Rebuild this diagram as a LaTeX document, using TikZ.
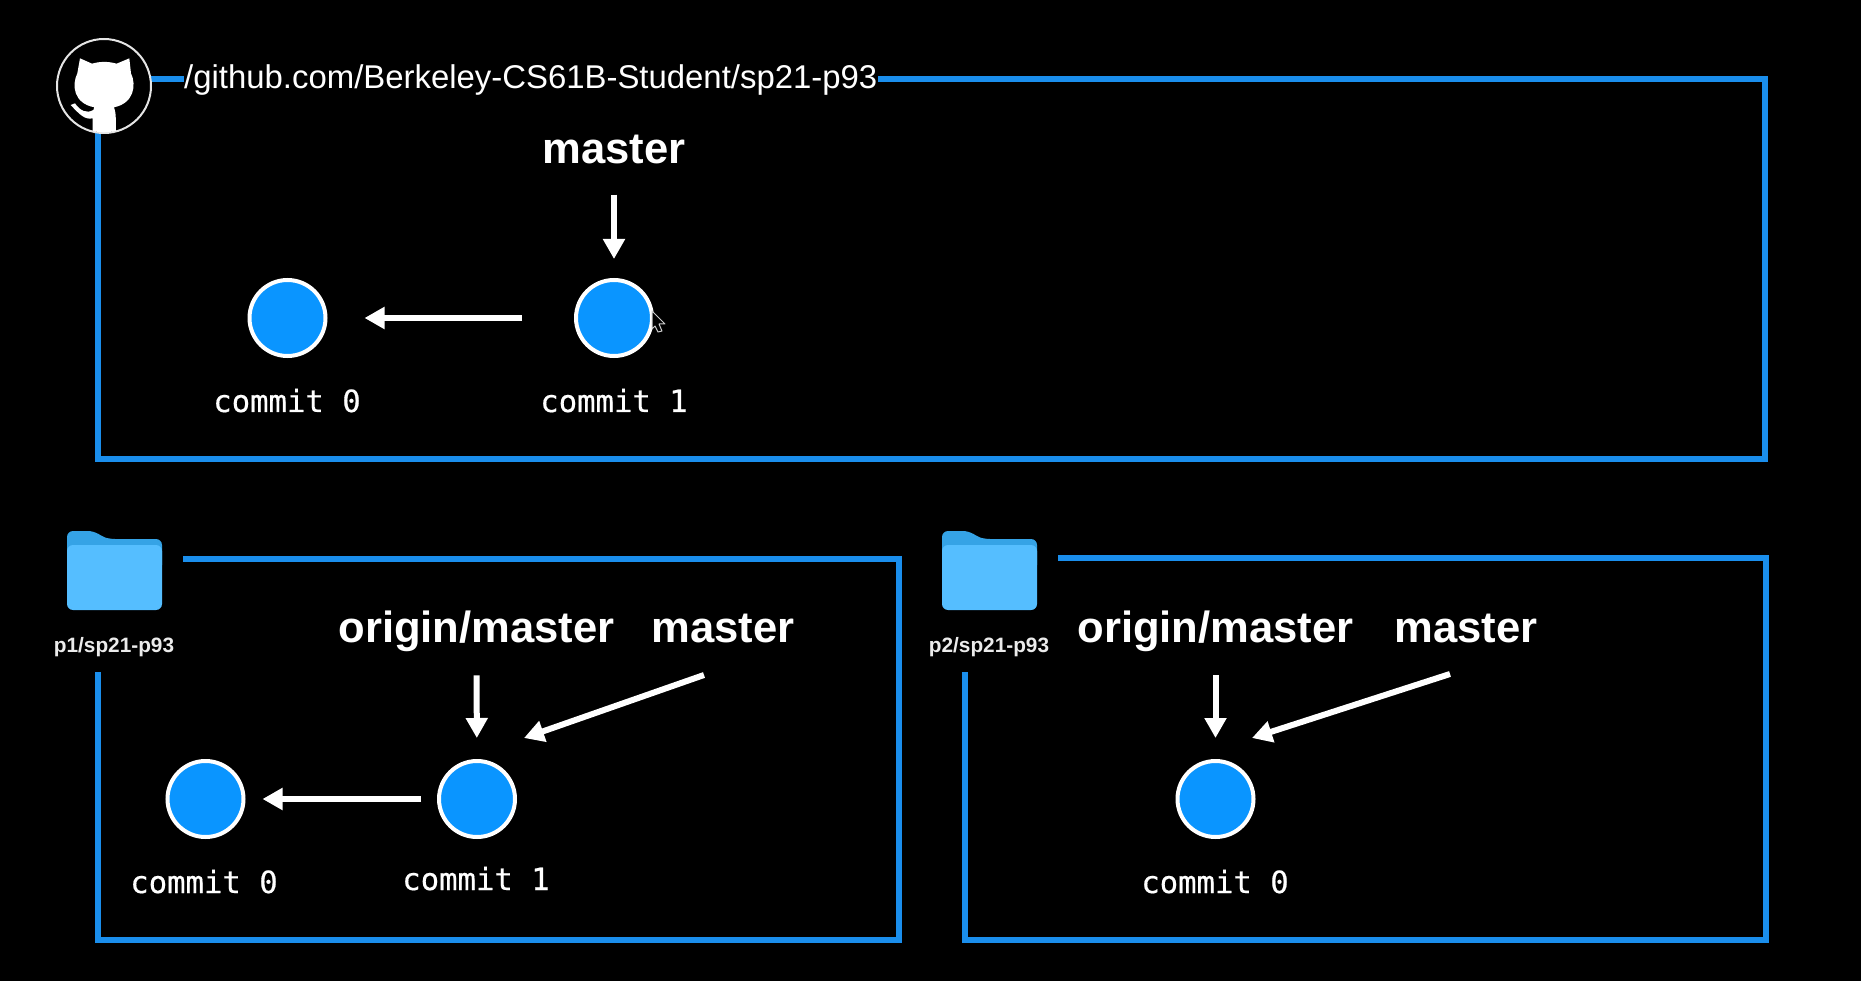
\documentclass[tikz,border=0pt]{standalone}
\usepackage{fontspec}
\setmainfont{Liberation Sans}
\setmonofont[RawFeature={embolden=0.5}]{DejaVu Sans Mono}
\usetikzlibrary{arrows.meta}
\definecolor{linkblue}{HTML}{1A8EEC}
\definecolor{commitblue}{HTML}{0A95FF}
\definecolor{folderbody}{HTML}{55BEFF}
\definecolor{foldertab}{HTML}{35A3E6}
\tikzset{
  boxline/.style={draw=linkblue,line width=5.5pt,line cap=butt,line join=miter},
  commitnode/.style={circle,draw=white,fill=commitblue,line width=4pt,minimum size=76pt,inner sep=0pt},
  commitlabel/.style={anchor=base,inner sep=0pt,text=white,font=\ttfamily\fontsize{30.6}{34}\selectfont},
  branchlabel/.style={anchor=base,inner sep=0pt,text=white,font=\bfseries\fontsize{43.6}{48}\selectfont},
  folderlabel/.style={anchor=base,inner sep=0pt,text=white!92!black,font=\bfseries\fontsize{20.8}{24}\selectfont},
  urllabel/.style={anchor=base west,inner sep=0pt,text=white,font=\fontsize{32.9}{36}\selectfont},
  pointer/.style={draw=white,line width=6pt,-{Triangle[length=20pt,width=21pt]}},
}
\newcommand{\folderat}[2]{%
  \begin{scope}[shift={(#1,#2)}]
    \fill[foldertab,rounded corners=6pt] (0,40) -- (0,0) -- (27,0) -- (36,6) -- (42,8) -- (95,8) -- (95,40) -- cycle;
    \fill[folderbody,rounded corners=6pt] (0,14) rectangle (95,79);
  \end{scope}}
\begin{document}
\begin{tikzpicture}[x=1pt,y=-1pt]
\useasboundingbox (0,0) rectangle (1861,981);
\fill[black] (0,0) rectangle (1861,981);

% top repository box
\node[urllabel] (url) at (184,88.5) {/github.com/Berkeley-CS61B-Student/sp21-p93};
\coordinate (topstart) at (150,79);
\coordinate (urlin) at (184,79);
\coordinate (urlout) at (878,79);
\coordinate (topright) at (1765,79);
\coordinate (botright) at (1765,459);
\coordinate (botleft) at (98,459);
\coordinate (ghbase) at (98,125);
\draw[boxline] (topstart) -- (urlin);
\draw[boxline] (urlout) -- (topright) -- (botright) -- (botleft) -- (ghbase);

% GitHub badge
\node[circle,draw=white!90!black,fill=black,line width=2pt,minimum size=94pt,inner sep=0pt] (gh) at (104,86) {};
\begin{scope}[shift={(30,20)},x=0.3333pt,y=-0.3333pt]
  \clip (222,197) circle[radius=140];
  \fill[white] (150,115) -- (186,131) .. controls (210,124) and (235,124) .. (260,131) -- (298,115)
    -- (303,160) .. controls (320,195) and (312,250) .. (252,262) .. controls (258,275) and (258,300) .. (258,345)
    -- (188,345) -- (188,295) .. controls (165,300) and (150,285) .. (122,255) -- (135,250)
    .. controls (150,272) and (170,282) .. (190,270) -- (193,262)
    .. controls (130,250) and (125,195) .. (142,160) -- cycle;
\end{scope}

% top commits
\node[commitnode] (t0) at (287.5,318) {};
\node[commitnode] (t1) at (614,318) {};
\node[commitlabel] (t0l) at (287,412) {commit 0};
\node[commitlabel] (t1l) at (614,412) {commit 1};
\node[branchlabel] (tm) at (614,164) {master};
\draw[pointer,shorten <=30pt,shorten >=19pt] (tm) -- (t1);
\draw[pointer,shorten <=52pt,shorten >=37pt] (t1) -- (t0);
% cursor
\draw[white!80!black,fill=black,line width=1pt,line join=round] (652,311) -- (665,324) -- (659,324) -- (662,331) -- (658,332) -- (655,326) -- (652,329) -- cycle;

% bottom-left clone
\folderat{67}{531}
\node[folderlabel] (f1) at (114,652) {p1/sp21-p93};
\coordinate (a1) at (183,559);
\coordinate (a2) at (899,559);
\coordinate (a3) at (899,940);
\coordinate (a4) at (98,940);
\coordinate (a5) at (98,672);
\draw[boxline] (a1) -- (a2) -- (a3) -- (a4) -- (a5);
\node[commitnode] (l0) at (205.5,799) {};
\node[commitnode] (l1) at (477,799) {};
\node[commitlabel] (l0l) at (204,893) {commit 0};
\node[commitlabel] (l1l) at (476,890) {commit 1};
\node[branchlabel] (lo) at (476.5,642) {origin/master};
\node[branchlabel] (lm) at (723,642) {master};
\coordinate (lmtail) at (704,675);
\coordinate (lmhead) at (524,738);
\draw[pointer,shorten <=24pt,shorten >=21pt] (lo) -- (l1);
\draw[pointer] (lmtail) -- (lmhead);
\draw[pointer,shorten <=16pt,shorten >=17pt] (l1) -- (l0);

% bottom-right clone
\folderat{942}{531}
\node[folderlabel] (f2) at (989,652) {p2/sp21-p93};
\coordinate (b1) at (1058,558);
\coordinate (b2) at (1766,558);
\coordinate (b3) at (1766,940);
\coordinate (b4) at (965,940);
\coordinate (b5) at (965,672);
\draw[boxline] (b1) -- (b2) -- (b3) -- (b4) -- (b5);
\node[commitnode] (r0) at (1215.5,799) {};
\node[commitlabel] (r0l) at (1215,893) {commit 0};
\node[branchlabel] (ro) at (1215.5,642) {origin/master};
\node[branchlabel] (rm) at (1466,642) {master};
\coordinate (rmtail) at (1450,674);
\coordinate (rmhead) at (1252,738);
\draw[pointer,shorten <=24pt,shorten >=21pt] (ro) -- (r0);
\draw[pointer] (rmtail) -- (rmhead);
\end{tikzpicture}
\end{document}
